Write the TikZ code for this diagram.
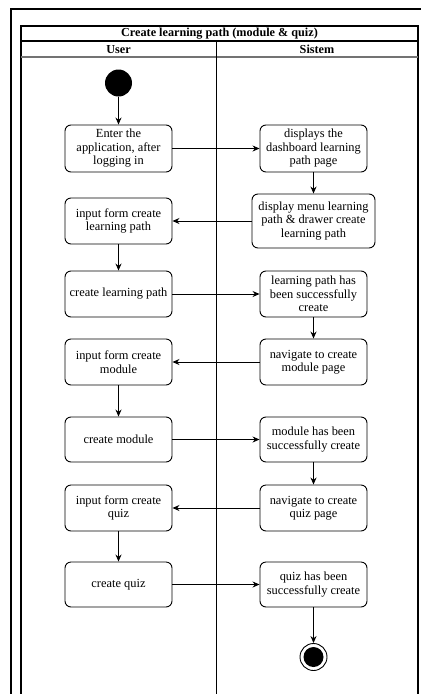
\documentclass[tikz,border=0pt]{standalone}
\usepackage{fontspec}
\setmainfont{Liberation Serif}
\usetikzlibrary{arrows.meta}
\begin{document}
\begin{tikzpicture}[x=1pt,y=-1pt,
  act/.style={draw, rounded corners=6pt, line width=0.9pt, minimum width=107pt, minimum height=46pt, align=center, font=\fontsize{12.4}{13.5}\selectfont, inner sep=1pt},
  flow/.style={-{Stealth[length=7pt,width=6pt]}, line width=0.9pt},
  frame/.style={line width=1.1pt},
  hdr/.style={font=\fontsize{12.2}{13}\selectfont\bfseries}]
\useasboundingbox (0,0) rectangle (421,694);
% outer frame
\draw[frame] (11,694) -- (11,9) -- (421,9);
% inner table
\draw[frame] (21,694) -- (21,26) -- (418,26) -- (418,694);
\draw[frame] (21,41) -- (418,41);
\draw[line width=1.3pt, black!55] (21,57) -- (418,57);
\draw[line width=0.9pt] (216,41) -- (216,694);
\node[hdr] (title) at (219.5,33.5) {Create learning path (module \& quiz)};
\node[hdr] (huser) at (118.5,49.5) {User};
\node[hdr] (hsys) at (317,49.5) {Sistem};
% start
\node[circle, fill=black, minimum size=27pt, inner sep=0pt] (start) at (118.5,83) {};
% user activities
\node[act, minimum height=47pt] (u1) at (118.5,148.5) {Enter the\\application, after\\logging in};
\node[act] (u2) at (118.5,221) {input form create\\learning path};
\node[act] (u3) at (118.5,294) {create learning path};
\node[act] (u4) at (118.5,362) {input form create\\module};
\node[act, minimum height=45pt] (u5) at (118.5,439.5) {create module};
\node[act] (u6) at (118.5,508) {input form create\\quiz};
\node[act, minimum height=45pt] (u7) at (118.5,584.5) {create quiz};
% system activities
\node[act, minimum height=47pt] (s1) at (313.5,148.5) {displays the\\dashboard learning\\path page};
\node[act, minimum width=123pt, minimum height=54pt] (s2) at (313.5,221) {display menu learning\\path \& drawer create\\learning path};
\node[act] (s3) at (313.5,294) {learning path has\\been successfully\\create};
\node[act] (s4) at (313.5,362) {navigate to create\\module page};
\node[act, minimum height=45pt] (s5) at (313.5,439.5) {module has been\\successfully create};
\node[act] (s6) at (313.5,508) {navigate to create\\quiz page};
\node[act, minimum height=45pt] (s7) at (313.5,584.5) {quiz has been\\successfully create};
% end
\node[circle, draw, line width=0.9pt, minimum size=27pt, inner sep=0pt] (end) at (313.5,657) {};
\node[circle, fill=black, minimum size=20pt, inner sep=0pt] (endin) at (end.center) {};
% flows
\draw[flow] (start) -- (u1);
\draw[flow] (u1) -- (s1);
\draw[flow] (s1) -- (s2);
\draw[flow] (s2) -- (u2);
\draw[flow] (u2) -- (u3);
\draw[flow] (u3) -- (s3);
\draw[flow] (s3) -- (s4);
\draw[flow] (s4) -- (u4);
\draw[flow] (u4) -- (u5);
\draw[flow] (u5) -- (s5);
\draw[flow] (s5) -- (s6);
\draw[flow] (s6) -- (u6);
\draw[flow] (u6) -- (u7);
\draw[flow] (u7) -- (s7);
\draw[flow] (s7) -- (end);
\end{tikzpicture}
\end{document}
